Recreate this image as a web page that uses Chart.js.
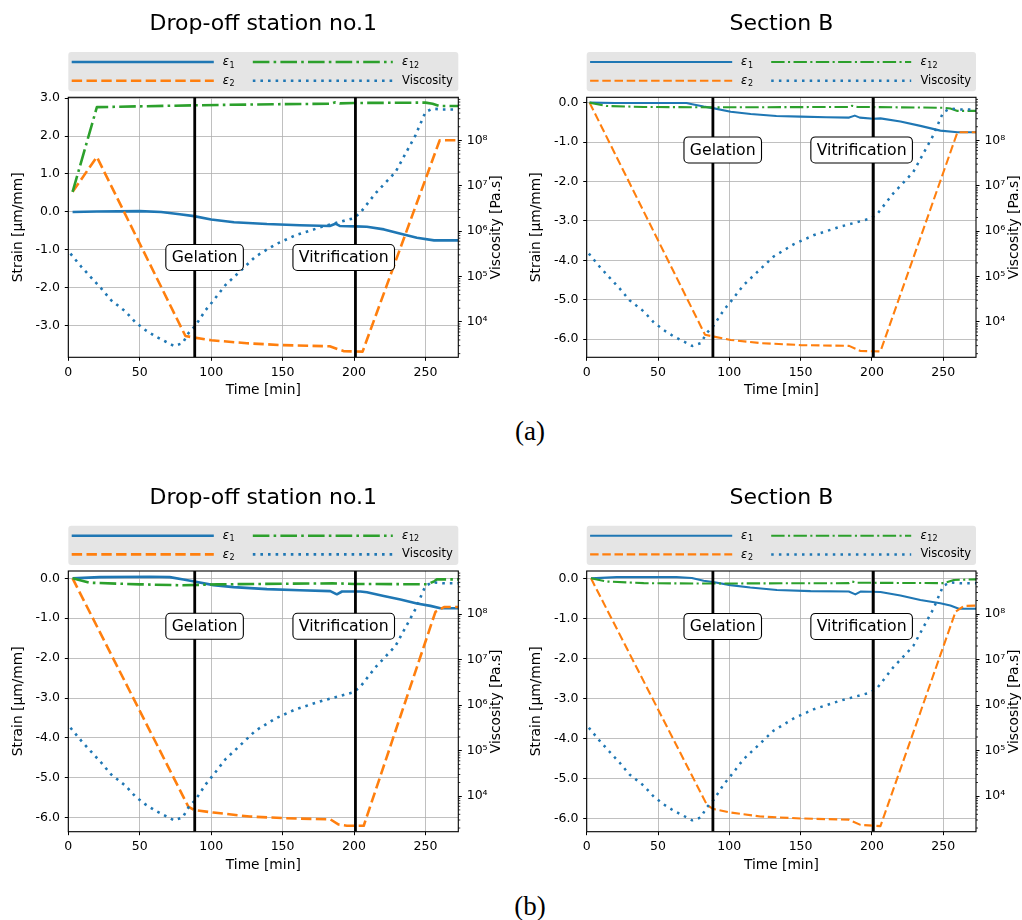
<!DOCTYPE html>
<html><head><meta charset="utf-8">
<script src="https://cdn.jsdelivr.net/npm/chart.js@4.4.1/dist/chart.umd.min.js"></script>
<style>
html,body{margin:0;padding:0;background:#fff;width:1022px;height:920px;overflow:hidden;}
canvas{position:absolute;}
.cap{position:absolute;font-family:'Liberation Serif',serif;font-size:27px;color:#000;transform:translate(-50%,-50%);line-height:1;}
</style></head><body>
<canvas id="cA1" width="511" height="410" style="left:0;top:0"></canvas>
<canvas id="cA2" width="511" height="410" style="left:511px;top:0"></canvas>
<canvas id="cB1" width="511" height="410" style="left:0;top:475px"></canvas>
<canvas id="cB2" width="511" height="410" style="left:511px;top:475px"></canvas>
<div class="cap" style="left:530px;top:431px">(a)</div>
<div class="cap" style="left:530px;top:906px">(b)</div>
<script>
// ---------------- data ----------------
const titleLeft = 'Drop-off station no.1';
const titleRight = 'Section B';
const timeTicks = [0, 50, 100, 150, 200, 250];
const timeRange = [0, 273];
const viscTicks = [1e4, 1e5, 1e6, 1e7, 1e8];
const viscTickLabels = ['10⁴', '10⁵', '10⁶', '10⁷', '10⁸'];
const viscRange = [1.66e3, 8.9e8];
const eventTimes = [88.5, 201];
const eventLabels = ['Gelation', 'Vitrification'];
const eventLabelTimes = [95.4, 192.8];
const eventLabelStrain = -1.2;

// viscosity (same curve in every panel)
const viscTime  = [1.5, 9, 16, 23, 30, 40, 47, 54, 61, 68, 74, 80, 84, 89, 96, 101, 110, 119, 131, 145, 159, 178, 199, 204, 215, 229, 243, 250, 255, 262, 273];
const viscValue = [3.2e5, 1.66e5, 9.5e4, 5.5e4, 3.0e4, 1.7e4, 9.8e3, 6.6e3, 4.8e3, 3.7e3, 2.95e3, 3.4e3, 5.6e3, 8.3e3, 1.8e4, 2.8e4, 6.5e4, 1.2e5, 2.75e5, 5.1e5, 8.1e5, 1.26e6, 1.9e6, 2.45e6, 6.8e6, 2.0e7, 1.29e8, 4.2e8, 5.0e8, 4.8e8, 4.8e8];

// (a) Drop-off station no.1
const e1TimeA1 = [3, 20, 50, 65, 78, 88, 100, 116, 139, 162, 183, 187, 190, 201, 209, 221, 232, 244, 256, 273];
const e1A1     = [0.0, 0.01, 0.02, 0.0, -0.06, -0.11, -0.2, -0.27, -0.32, -0.35, -0.37, -0.31, -0.37, -0.38, -0.39, -0.46, -0.57, -0.68, -0.75, -0.75];
const e2TimeA1 = [3, 20, 82, 88, 100, 125, 150, 183, 193, 206, 260, 273];
const e2A1     = [0.53, 1.45, -3.27, -3.31, -3.38, -3.46, -3.51, -3.54, -3.67, -3.68, 1.89, 1.89];
const e12TimeA1 = [3, 20, 89, 150, 184, 187, 190, 200, 250, 255, 260, 273];
const e12A1     = [0.53, 2.76, 2.81, 2.84, 2.85, 2.89, 2.86, 2.87, 2.88, 2.85, 2.79, 2.79];
const strainRangeA1 = [-3.83, 3.02];
const strainTicksA1 = [-3, -2, -1, 0, 1, 2, 3];

// (a) Section B
const e1TimeA2 = [2, 20, 70, 74, 82, 88.5, 101, 115, 133, 150, 168, 184, 188, 191.5, 201, 206, 220, 234, 248, 260, 273];
const e1A2     = [0, -0.01, -0.01, -0.04, -0.1, -0.14, -0.23, -0.29, -0.34, -0.355, -0.37, -0.38, -0.33, -0.38, -0.41, -0.40, -0.48, -0.59, -0.71, -0.75, -0.75];
const e2TimeA2 = [2, 83, 88.5, 101, 122, 150, 184, 192, 206, 260, 273];
const e2A2     = [0, -5.89, -5.93, -6.02, -6.1, -6.15, -6.17, -6.3, -6.31, -0.75, -0.75];
const e12TimeA2 = [2, 14, 40, 88, 184, 186, 190, 250, 255, 260, 273];
const e12A2     = [0, -0.085, -0.11, -0.12, -0.11, -0.08, -0.11, -0.13, -0.15, -0.21, -0.21];
const strainRangeA2 = [-6.46, 0.135];
const strainTicksA2 = [-6, -5, -4, -3, -2, -1, 0];

// (b) Drop-off station no.1
const e1TimeB1 = [3, 22, 57, 71, 80.6, 88.3, 101.6, 115.7, 139, 162, 183.4, 188, 191.6, 204.4, 209, 220.8, 232.5, 244, 253.5, 260.5, 273];
const e1B1     = [0, 0.03, 0.04, 0.03, -0.03, -0.08, -0.17, -0.22, -0.27, -0.30, -0.32, -0.40, -0.33, -0.33, -0.35, -0.44, -0.53, -0.63, -0.69, -0.75, -0.75];
const e2TimeB1 = [3, 84, 88.3, 101.6, 127, 150.7, 183.4, 189.3, 195, 206.8, 257, 263, 273];
const e2B1     = [0, -5.72, -5.81, -5.87, -5.97, -6.01, -6.04, -6.17, -6.2, -6.2, -0.84, -0.72, -0.72];
const e12TimeB1 = [3, 15, 50, 80, 104, 185, 200, 251, 256, 258, 273];
const e12B1     = [0, -0.11, -0.15, -0.175, -0.15, -0.125, -0.14, -0.15, -0.08, -0.025, -0.025];
const strainRangeB1 = [-6.35, 0.184];
const strainTicksB1 = [-6, -5, -4, -3, -2, -1, 0];

// (b) Section B
const e1TimeB2 = [3, 21, 63, 73.7, 82, 88.5, 100.7, 114.7, 133.4, 157, 183.8, 188.4, 192, 206, 220, 234, 248, 255, 261, 273];
const e1B2     = [0, 0.03, 0.03, 0.01, -0.06, -0.09, -0.17, -0.23, -0.29, -0.32, -0.33, -0.40, -0.33, -0.34, -0.43, -0.54, -0.62, -0.68, -0.76, -0.76];
const e2TimeB2 = [3, 84.3, 88.5, 100.7, 121.7, 150, 183.8, 192, 206, 258.7, 264.5, 273];
const e2B2     = [0, -5.65, -5.75, -5.84, -5.94, -5.99, -6.02, -6.15, -6.18, -0.83, -0.69, -0.68];
const e12TimeB2 = [3, 14, 40, 77, 184, 186, 190, 250.5, 257.5, 273];
const e12B2     = [0, -0.08, -0.12, -0.13, -0.12, -0.08, -0.11, -0.12, -0.04, -0.025];
const strainRangeB2 = [-6.32, 0.183];
const strainTicksB2 = [-6, -5, -4, -3, -2, -1, 0];

// ---------------- styles / layout ----------------
const FONT = 'DejaVu Sans';
const C_BLUE = '#1f77b4', C_ORANGE = '#ff7f0e', C_GREEN = '#2ca02c';
const styleLeft  = {lw: 2.6, dash: [10.4, 4.4], dashdot: [16.6, 4.2, 2.6, 4.2], dot: [2.6, 5.0], vlw: 2.6};
const styleRight = {lw: 2.1, dash: [8.5, 3.7], dashdot: [13.4, 3.4, 2.1, 3.4], dot: [2.5, 5.2], vlw: 2.5};

const panels = [
  {id: 'cA1', title: titleLeft,  e1: [e1TimeA1, e1A1], e2: [e2TimeA1, e2A1], e12: [e12TimeA1, e12A1], range: strainRangeA1, ticks: strainTicksA1, L: 68.3, R: 52.7, T: 97.3, B: 52.7, ylp: 10, st: styleLeft},
  {id: 'cA2', title: titleRight, e1: [e1TimeA2, e1A2], e2: [e2TimeA2, e2A2], e12: [e12TimeA2, e12A2], range: strainRangeA2, ticks: strainTicksA2, L: 75.7, R: 46,   T: 97.3, B: 52.7, ylp: 17.4, st: styleRight},
  {id: 'cB1', title: titleLeft,  e1: [e1TimeB1, e1B1], e2: [e2TimeB1, e2B1], e12: [e12TimeB1, e12B1], range: strainRangeB1, ticks: strainTicksB1, L: 68.3, R: 52.7, T: 96,   B: 53.3, ylp: 10, st: styleLeft},
  {id: 'cB2', title: titleRight, e1: [e1TimeB2, e1B2], e2: [e2TimeB2, e2B2], e12: [e12TimeB2, e12B2], range: strainRangeB2, ticks: strainTicksB2, L: 75.7, R: 46,   T: 96,   B: 53.3, ylp: 17.4, st: styleRight}
];

function pts(t, v) { return t.map((x, i) => ({x: x, y: v[i]})); }

function rrect(ctx, x, y, w, h, r) {
  ctx.beginPath();
  ctx.moveTo(x + r, y);
  ctx.arcTo(x + w, y, x + w, y + h, r);
  ctx.arcTo(x + w, y + h, x, y + h, r);
  ctx.arcTo(x, y + h, x, y, r);
  ctx.arcTo(x, y, x + w, y, r);
  ctx.closePath();
}

const decor = {
  id: 'decor',
  afterDatasetsDraw(chart) {
    const {ctx, chartArea: a, scales} = chart;
    const x = scales.x, y = scales.y, y2 = scales.y2;
    ctx.save();
    ctx.beginPath(); ctx.rect(a.left, a.top, a.right - a.left, a.bottom - a.top); ctx.clip();
    ctx.strokeStyle = '#000'; ctx.lineWidth = 2.8; ctx.setLineDash([]);
    eventTimes.forEach(t => {
      const px = x.getPixelForValue(t);
      ctx.beginPath(); ctx.moveTo(px, a.top); ctx.lineTo(px, a.bottom); ctx.stroke();
    });
    ctx.font = '15.7px "' + FONT + '"'; ctx.textAlign = 'center'; ctx.textBaseline = 'middle';
    eventLabels.forEach((s, i) => {
      const cx = x.getPixelForValue(eventLabelTimes[i]);
      const cy = y.getPixelForValue(eventLabelStrain);
      const w = ctx.measureText(s).width + 11.7, h = 26;
      rrect(ctx, cx - w / 2, cy - h / 2, w, h, 4.5);
      ctx.fillStyle = '#fff'; ctx.fill();
      ctx.lineWidth = 1.1; ctx.strokeStyle = '#000'; ctx.stroke();
      ctx.fillStyle = '#000'; ctx.fillText(s, cx, cy + 0.5);
    });
    ctx.restore();
    ctx.save();
    ctx.strokeStyle = '#000'; ctx.lineWidth = 1.1;
    ctx.strokeRect(a.left, a.top, a.right - a.left, a.bottom - a.top);
    ctx.lineWidth = 0.8;
    for (let e = 3; e <= 8; e++) {
      for (let k = 2; k <= 9; k++) {
        const v = k * Math.pow(10, e);
        if (v < y2.min || v > y2.max) continue;
        const py = y2.getPixelForValue(v);
        ctx.beginPath(); ctx.moveTo(a.right, py); ctx.lineTo(a.right + 2, py); ctx.stroke();
      }
    }
    ctx.restore();
  },
  afterDraw(chart, args, opts) {
    const {ctx, chartArea: a} = chart;
    const ds = chart.data.datasets;
    ctx.save();
    // title
    ctx.fillStyle = '#000';
    ctx.font = '22px "' + FONT + '"'; ctx.textAlign = 'center'; ctx.textBaseline = 'alphabetic';
    ctx.fillText(opts.title, (a.left + a.right) / 2, a.top - 67.3);
    // legend
    const L = a.left;
    rrect(ctx, L, a.top - 45.3, a.right - a.left, 39.3, 3);
    ctx.fillStyle = '#e5e5e5'; ctx.fill();
    const rows = [a.top - 35.3, a.top - 16.6];
    const items = [
      {d: ds[0], col: 0, row: 0, sym: '1'},
      {d: ds[2], col: 1, row: 0, sym: '12'},
      {d: ds[1], col: 0, row: 1, sym: '2'},
      {d: ds[3], col: 1, row: 1, text: ds[3].label}
    ];
    const cols = [[L + 3.4, L + 145.5, L + 154.4], [L + 184.5, L + 324.5, L + 333.8]];
    items.forEach(it => {
      const ry = rows[it.row], c = cols[it.col];
      ctx.save();
      ctx.strokeStyle = it.d.borderColor; ctx.lineWidth = it.d.borderWidth;
      ctx.setLineDash(it.d.borderDash || []); ctx.lineCap = 'butt';
      ctx.beginPath(); ctx.moveTo(c[0], ry); ctx.lineTo(c[1], ry); ctx.stroke();
      ctx.restore();
      ctx.fillStyle = '#000'; ctx.textAlign = 'left';
      if (it.text) {
        ctx.font = '11.5px "' + FONT + '"'; ctx.textBaseline = 'middle';
        ctx.fillText(it.text, c[2], ry);
      } else {
        ctx.textBaseline = 'alphabetic';
        ctx.font = 'italic 11.5px "' + FONT + '"';
        ctx.fillText('ε', c[2], ry + 3.4);
        const w = ctx.measureText('ε').width;
        ctx.font = '8px "' + FONT + '"';
        ctx.fillText(it.sym, c[2] + w + 0.6, ry + 5.6);
      }
    });
    // right axis label
    ctx.save();
    ctx.translate(a.right + 38.6, (a.top + a.bottom) / 2);
    ctx.rotate(-Math.PI / 2);
    ctx.font = '13.8px "' + FONT + '"'; ctx.textAlign = 'center'; ctx.textBaseline = 'middle';
    ctx.fillStyle = '#000';
    ctx.fillText('Viscosity [Pa.s]', 0, 0);
    ctx.restore();
    ctx.restore();
  }
};

Chart.defaults.font.family = FONT;
Chart.defaults.color = '#000';

panels.forEach(p => {
  const st = p.st;
  const tickFont = {family: FONT, size: 12.5};
  const labelFont = {family: FONT, size: 13.8};
  new Chart(document.getElementById(p.id), {
    type: 'line',
    data: {
      datasets: [
        {label: 'ε1', data: pts(p.e1[0], p.e1[1]), yAxisID: 'y', borderColor: C_BLUE, borderWidth: st.lw, borderDash: [], order: 4},
        {label: 'ε2', data: pts(p.e2[0], p.e2[1]), yAxisID: 'y', borderColor: C_ORANGE, borderWidth: st.lw, borderDash: st.dash, order: 3},
        {label: 'ε12', data: pts(p.e12[0], p.e12[1]), yAxisID: 'y', borderColor: C_GREEN, borderWidth: st.lw, borderDash: st.dashdot, order: 2},
        {label: 'Viscosity', data: pts(viscTime, viscValue), yAxisID: 'y2', borderColor: C_BLUE, borderWidth: st.vlw, borderDash: st.dot, order: 1}
      ]
    },
    options: {
      responsive: false, animation: false, devicePixelRatio: 1,
      layout: {padding: {top: p.T, left: 0, right: 0, bottom: 0}},
      elements: {point: {radius: 0}, line: {tension: 0, fill: false, borderCapStyle: 'butt', borderJoinStyle: 'round'}},
      plugins: {legend: {display: false}, tooltip: {enabled: false}, title: {display: false}, decor: {title: p.title}},
      scales: {
        x: {
          type: 'linear', min: timeRange[0], max: timeRange[1], bounds: 'data',
          afterBuildTicks: s => { s.ticks = timeTicks.map(v => ({value: v})); },
          afterFit: s => { s.height = p.B; },
          grid: {color: '#b0b0b0', lineWidth: 0.8, tickLength: 3.5, tickColor: '#000', tickWidth: 1},
          border: {display: false},
          ticks: {color: '#000', font: tickFont, padding: 4, maxRotation: 0, autoSkip: false},
          title: {display: true, text: 'Time [min]', color: '#000', font: labelFont, padding: {top: 0, bottom: 11}}
        },
        y: {
          type: 'linear', position: 'left', min: p.range[0], max: p.range[1], bounds: 'data',
          afterBuildTicks: s => { s.ticks = p.ticks.map(v => ({value: v})); },
          afterFit: s => { s.width = p.L; },
          grid: {color: '#b0b0b0', lineWidth: 0.8, tickLength: 3.5, tickColor: '#000', tickWidth: 1},
          border: {display: false},
          ticks: {color: '#000', font: tickFont, padding: 4.8, autoSkip: false, callback: v => Number(v).toFixed(1)},
          title: {display: true, text: 'Strain [μm/mm]', color: '#000', font: labelFont, padding: {top: p.ylp, bottom: 0}}
        },
        y2: {
          type: 'logarithmic', position: 'right', min: viscRange[0], max: viscRange[1], bounds: 'data',
          afterBuildTicks: s => { s.ticks = viscTicks.map(v => ({value: v})); },
          afterFit: s => { s.width = p.R; },
          grid: {drawOnChartArea: false, tickLength: 3.5, tickColor: '#000', tickWidth: 1},
          border: {display: false},
          ticks: {color: '#000', font: tickFont, padding: 4.9, autoSkip: false,
                  callback: v => { const i = viscTicks.indexOf(v); return i >= 0 ? viscTickLabels[i] : ''; }}
        }
      }
    },
    plugins: [decor]
  });
});
</script>
</body></html>
